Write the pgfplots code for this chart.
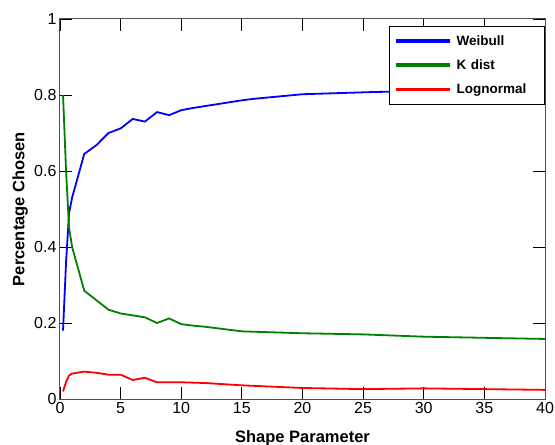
\documentclass[border=0pt]{standalone}
\usepackage{pgfplots}
\pgfplotsset{compat=1.18}
\usepackage{fontspec}
\setmainfont{Liberation Sans}
\definecolor{mblue}{RGB}{0,0,255}
\definecolor{mgreen}{RGB}{0,128,0}
\definecolor{mred}{RGB}{255,0,0}
\definecolor{axgray}{RGB}{80,80,80}
\begin{document}
\begin{tikzpicture}
\useasboundingbox (-60bp,-46bp) rectangle (495bp,399bp);
\begin{axis}[
  scale only axis,
  width=485bp, height=380bp,
  xmin=0, xmax=40, ymin=0, ymax=1,
  xtick={0,5,...,40},
  ytick={0,0.2,0.4,0.6,0.8,1},
  yticklabels={0,0.2,0.4,0.6,0.8,1},
  tick align=inside,
  major tick length=12bp,
  tick style={black, line width=0.8bp},
  axis line style={axgray, line width=1bp},
  ticklabel style={font=\fontsize{16bp}{18bp}\selectfont},
  /pgf/number format/assume math mode=true,
  xlabel={\textbf{Shape Parameter}},
  ylabel={\textbf{Percentage Chosen}},
  label style={font=\fontsize{16.5bp}{18bp}\selectfont},
  xlabel style={at={(axis description cs:0.5,0)}, anchor=north, yshift=-31bp, inner sep=0pt},
  ylabel style={at={(axis description cs:-0.066,0.5)}, anchor=south, inner sep=0pt},
  legend style={at={(axis description cs:1,1)}, anchor=north east, xshift=0bp, yshift=-7bp,
    draw=black, line width=0.8bp, fill=white,
    font=\fontsize{13.5bp}{15bp}\selectfont\bfseries,
    row sep=9bp, inner xsep=6bp, inner ysep=7bp,
    cells={anchor=west, text width=80bp}},
  legend image code/.code={\fill[#1] (0bp,-0.9bp) rectangle (52bp,0.9bp); \path (57bp,0bp);},
  legend cell align=left,
]
\addplot[color=mblue, line width=1.8bp] coordinates {
(0.25,0.18) (0.5,0.36) (0.75,0.49) (1,0.53) (2,0.645) (3,0.668) (4,0.70) (5,0.712)
(6,0.737) (7,0.73) (8,0.755) (9,0.747) (10,0.76) (11,0.766) (12,0.771) (13,0.776)
(14,0.781) (15,0.786) (16,0.790) (17,0.793) (18,0.796) (19,0.799) (20,0.802)
(22,0.804) (24,0.806) (26,0.808) (28,0.809) (30,0.81) (35,0.81) (40,0.81)};
\addlegendentry{Weibull}
\addplot[color=mgreen, line width=1.8bp] coordinates {
(0.25,0.80) (0.5,0.60) (0.75,0.45) (1,0.40) (2,0.285) (3,0.26) (4,0.235) (5,0.225)
(6,0.22) (7,0.215) (8,0.20) (9,0.212) (10,0.197) (11,0.193) (12,0.19) (13,0.186)
(14,0.182) (15,0.178) (17,0.176) (20,0.173) (25,0.170) (30,0.164) (35,0.161) (40,0.158)};
\addlegendentry{K dist}
\addplot[color=mred, line width=1.8bp] coordinates {
(0.25,0.02) (0.5,0.045) (0.75,0.062) (1,0.067) (2,0.072) (3,0.069) (4,0.064) (5,0.064)
(6,0.05) (7,0.056) (8,0.044) (9,0.044) (10,0.044) (11,0.043) (12,0.042) (15,0.036)
(20,0.029) (25,0.026) (30,0.028) (35,0.026) (40,0.024)};
\addlegendentry{Lognormal}
\end{axis}
\end{tikzpicture}
\end{document}
